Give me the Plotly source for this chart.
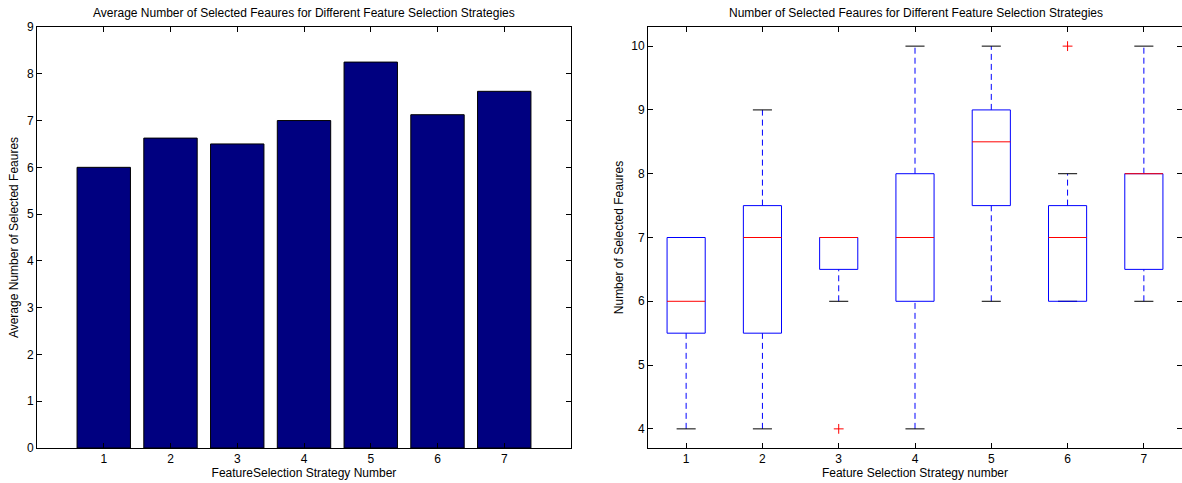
import plotly.graph_objects as go

# ---------------- data ----------------
strategies = [1, 2, 3, 4, 5, 6, 7]
avg_selected = [6.0, 6.625, 6.5, 7.0, 8.25, 7.125, 7.625]

box_q1 = [5.5, 5.5, 6.5, 6.0, 7.5, 6.0, 6.5]
box_median = [6.0, 7.0, 7.0, 7.0, 8.5, 7.0, 8.0]
box_q3 = [7.0, 7.5, 7.0, 8.0, 9.0, 7.5, 8.0]
whisker_low = [4, 4, 6, 4, 6, 6, 6]
whisker_high = [7, 9, 7, 10, 10, 8, 10]
outlier_x = [3, 6]
outlier_y = [4, 10]

left_title = "Average Number of Selected Feaures for Different Feature Selection Strategies"
right_title = "Number of Selected Feaures for Different Feature Selection Strategies"

# ---------------- layout constants ----------------
W, H = 1182, 483
FONT = "Liberation Sans, Arial, Helvetica, sans-serif"
FS = 12
BOX_W = 0.5
CAP_W = 0.25


def px(xp):
    return xp / W


def py(yp):
    return 1 - yp / H


top_px, bot_px = 27, 448
left_dom = [px(37), px(571)]
right_dom = [px(648), 1.0]
y_dom = [py(bot_px), py(top_px)]

fig = go.Figure()

# Left: bar chart
fig.add_trace(go.Bar(
    x=strategies, y=avg_selected, width=0.8,
    marker=dict(color="#000080", line=dict(color="black", width=1)),
    xaxis="x", yaxis="y", showlegend=False, hoverinfo="x+y"))

# Right: box plots drawn manually
def add_line(xs, ys, color, dash="solid", width=1):
    fig.add_trace(go.Scatter(
        x=xs, y=ys, mode="lines", xaxis="x2", yaxis="y2",
        line=dict(color=color, width=width, dash=dash),
        showlegend=False, hoverinfo="skip"))

for i, s in enumerate(strategies):
    q1, med, q3 = box_q1[i], box_median[i], box_q3[i]
    lo, hi = whisker_low[i], whisker_high[i]
    # whiskers (dashed)
    if hi > q3:
        add_line([s, s], [q3, hi], "#0000FF", dash="6px,4px")
    if lo < q1:
        add_line([s, s], [lo, q1], "#0000FF", dash="6px,4px")
    # caps
    add_line([s - CAP_W / 2, s + CAP_W / 2], [hi, hi], "#000000")
    add_line([s - CAP_W / 2, s + CAP_W / 2], [lo, lo], "#000000")
    # box
    add_line([s - BOX_W / 2, s + BOX_W / 2, s + BOX_W / 2, s - BOX_W / 2, s - BOX_W / 2],
             [q1, q1, q3, q3, q1], "#0000FF")
    # median
    add_line([s - BOX_W / 2, s + BOX_W / 2], [med, med], "#FF0000")

fig.add_trace(go.Scatter(
    x=outlier_x, y=outlier_y, mode="markers", xaxis="x2", yaxis="y2",
    marker=dict(symbol="cross-thin", size=7, line=dict(color="#FF0000", width=1)),
    showlegend=False))

axis_common = dict(
    showline=True, linecolor="black", linewidth=1, mirror="ticks",
    ticks="inside", ticklen=5, tickcolor="black", tickwidth=1,
    showgrid=False, zeroline=False,
    tickfont=dict(family=FONT, size=FS, color="black"),
)

fig.update_layout(
    width=W, height=H,
    margin=dict(l=0, r=0, t=0, b=0),
    plot_bgcolor="white", paper_bgcolor="white",
    font=dict(family=FONT, size=FS, color="black"),
    xaxis=dict(domain=left_dom, range=[0, 8], tickvals=strategies, anchor="y",
               title=dict(text="FeatureSelection Strategy Number",
                          font=dict(family=FONT, size=FS), standoff=0),
               automargin=False, **axis_common),
    yaxis=dict(domain=y_dom, range=[0, 9], dtick=1, anchor="x",
               title=dict(text="Average Number of Selected Feaures",
                          font=dict(family=FONT, size=FS), standoff=5),
               automargin=False, **axis_common),
    xaxis2=dict(domain=right_dom, range=[0.5, 7.5], tickvals=strategies, anchor="y2",
                title=dict(text="Feature Selection Strategy number",
                           font=dict(family=FONT, size=FS), standoff=0),
                automargin=False, **axis_common),
    yaxis2=dict(domain=y_dom, range=[3.7, 10.3], dtick=1, anchor="x2",
                title=dict(text="Number of Selected Feaures",
                           font=dict(family=FONT, size=FS), standoff=5),
                automargin=False, **axis_common),
    annotations=[
        dict(text=left_title, x=(left_dom[0] + left_dom[1]) / 2, y=py(13),
             xref="paper", yref="paper", showarrow=False,
             xanchor="center", yanchor="middle",
             font=dict(family=FONT, size=FS, color="black")),
        dict(text=right_title, x=(px(648) + px(1183)) / 2, y=py(13),
             xref="paper", yref="paper", showarrow=False,
             xanchor="center", yanchor="middle",
             font=dict(family=FONT, size=FS, color="black")),
    ],
)

fig.write_html("out.html")
